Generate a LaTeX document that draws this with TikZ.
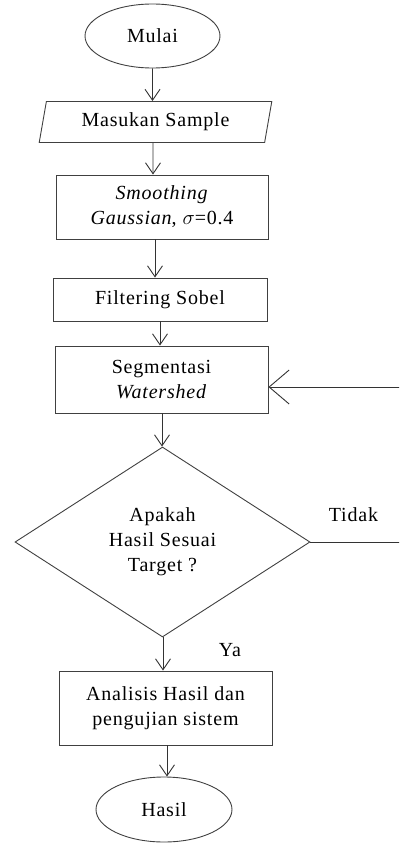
\documentclass[tikz,border=0pt]{standalone}
\usepackage{fontspec}
\setmainfont{Liberation Serif}[LetterSpace=4]
\usetikzlibrary{shapes.geometric}
\usetikzlibrary{arrows.meta}

\begin{document}
\begin{tikzpicture}[x=1pt,y=-1pt,
  every node/.style={font=\fontsize{20}{25}\selectfont, align=center, inner sep=0pt},
  box/.style={draw=black!75, line width=0.9pt, rectangle},
  oval/.style={draw=black!75, line width=0.9pt, ellipse},
  arr/.style={draw=black!80, line width=0.9pt, -{Straight Barb[length=11pt,width=15pt]}},
  fb/.style={draw=black!80, line width=0.9pt, -{Straight Barb[length=20pt,width=34pt]}}]
\clip (0,0) rectangle (399,843);

\node[oval, minimum width=135pt, minimum height=64pt] (mulai) at (152.5,36) {Mulai};
\node[draw=black!75, line width=0.9pt, trapezium, trapezium left angle=75, trapezium right angle=105,
  trapezium stretches=true, minimum width=233pt, minimum height=41pt] (masukan) at (155.5,122) {Masukan Sample};
\node[box, minimum width=212pt, minimum height=64pt] (smooth) at (162,207) {\textit{Smoothing}\\\textit{Gaussian}, $\sigma$=0.4};
\node[box, minimum width=214pt, minimum height=43pt] (sobel) at (160,299.5) {Filtering Sobel};
\node[box, minimum width=213pt, minimum height=67pt] (seg) at (161.5,379.5) {Segmentasi\\\textit{Watershed}};
\node[draw=black!75, line width=0.9pt, diamond, aspect=1.55, minimum width=295pt, minimum height=190pt] (cek) at (162.5,542) {Apakah\\Hasil Sesuai\\Target ?};
\node[box, minimum width=213pt, minimum height=74pt] (analisis) at (165.5,708) {Analisis Hasil dan\\pengujian sistem};
\node[oval, minimum width=136pt, minimum height=65pt] (hasil) at (164,809.5) {Hasil};

\node (tidak) at (353.5,515) {Tidak};
\node (ya) at (230,650) {Ya};

\draw[arr] (mulai.south) -- ([xshift=-3pt]masukan.north);
\draw[arr] ([xshift=-2.5pt]masukan.south) -- ([xshift=-9pt]smooth.north);
\draw[arr] ([xshift=-7pt]smooth.south) -- ([xshift=-5pt]sobel.north);
\draw[arr] (sobel.south) -- ([xshift=-1.5pt]seg.north);
\draw[arr] ([xshift=0.5pt]seg.south) -- ([xshift=-0.5pt]cek.north);
\draw[arr] ([xshift=0.5pt]cek.south) -- ([xshift=-2.5pt]analisis.north);
\draw[arr] ([xshift=1.5pt]analisis.south) -- ([xshift=3pt]hasil.north);
\draw[fb] (cek.east) -- ++(120,0) |- ([yshift=-7.5pt]seg.east);

\end{tikzpicture}
\end{document}
